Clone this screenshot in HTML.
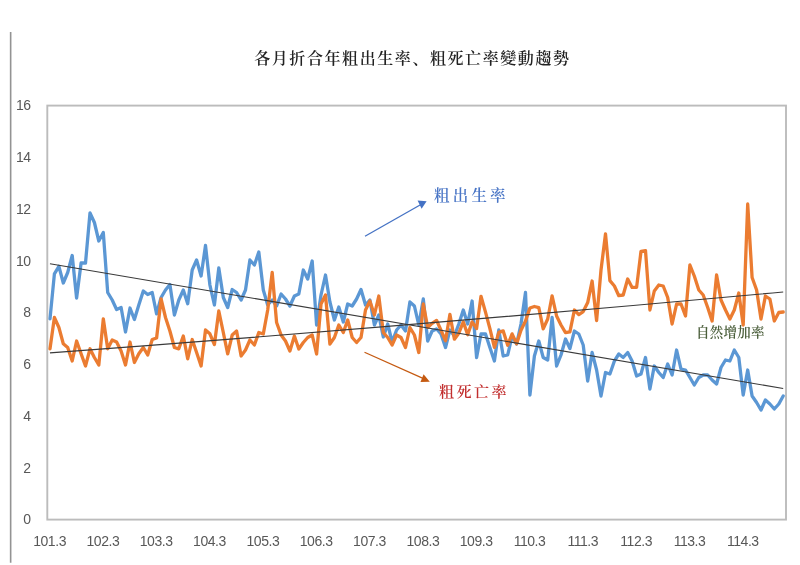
<!DOCTYPE html>
<html><head><meta charset="utf-8"><title>chart</title>
<style>
html,body{margin:0;padding:0;background:#fff;}
body{width:800px;height:565px;position:relative;overflow:hidden;font-family:"Liberation Sans",sans-serif;}
.title{position:absolute;left:4.4px;width:816px;font-weight:600;top:48.6px;text-align:center;font-family:"Liberation Serif","Noto Serif CJK SC",serif;font-size:16px;letter-spacing:1.58px;color:#222;white-space:nowrap;line-height:20px;}
.yl{position:absolute;left:0;width:30.7px;text-align:right;font-size:14px;letter-spacing:-0.45px;line-height:16px;color:#585858;}
.xl{position:absolute;top:532.9px;width:40px;text-align:center;font-size:14px;letter-spacing:-0.45px;line-height:16px;color:#585858;}
.lab{position:absolute;font-family:"Liberation Serif","Noto Serif CJK SC",serif;white-space:nowrap;line-height:18px;}
svg{position:absolute;left:0;top:0;}
</style></head><body>
<div class="title">各月折合年粗出生率、粗死亡率變動趨勢</div>
<div class="yl" style="top:511.4px">0</div>
<div class="yl" style="top:459.7px">2</div>
<div class="yl" style="top:407.9px">4</div>
<div class="yl" style="top:356.2px">6</div>
<div class="yl" style="top:304.4px">8</div>
<div class="yl" style="top:252.7px">10</div>
<div class="yl" style="top:200.9px">12</div>
<div class="yl" style="top:149.2px">14</div>
<div class="yl" style="top:97.4px">16</div>
<div class="xl" style="left:29.6px">101.3</div>
<div class="xl" style="left:82.9px">102.3</div>
<div class="xl" style="left:136.2px">103.3</div>
<div class="xl" style="left:189.5px">104.3</div>
<div class="xl" style="left:242.9px">105.3</div>
<div class="xl" style="left:296.2px">106.3</div>
<div class="xl" style="left:349.5px">107.3</div>
<div class="xl" style="left:402.9px">108.3</div>
<div class="xl" style="left:456.2px">109.3</div>
<div class="xl" style="left:509.5px">110.3</div>
<div class="xl" style="left:562.8px">111.3</div>
<div class="xl" style="left:616.2px">112.3</div>
<div class="xl" style="left:669.5px">113.3</div>
<div class="xl" style="left:722.8px">114.3</div>
<svg width="800" height="565" viewBox="0 0 800 565">
<line x1="10.65" y1="32" x2="10.65" y2="562.8" stroke="#939393" stroke-width="1.6"/>
<rect x="47.3" y="105.6" width="738.7" height="414.0" fill="none" stroke="#bcbcbc" stroke-width="1.9"/>
<polyline points="50.0,318.8 54.4,273.8 58.9,266.3 63.3,283.0 67.7,272.5 72.2,255.5 76.6,298.0 81.1,263.0 85.5,263.0 90.0,213.0 94.4,222.5 98.8,241.0 103.3,232.5 107.7,292.5 112.2,300.0 116.6,309.5 121.1,307.5 125.5,332.0 130.0,308.0 134.4,319.5 138.8,305.0 143.3,291.0 147.7,294.5 152.2,292.5 156.6,313.8 161.1,297.5 165.5,290.0 169.9,284.5 174.4,315.0 178.8,300.0 183.3,290.0 187.7,303.8 192.2,270.0 196.6,260.0 201.1,276.0 205.5,245.5 209.9,285.0 214.4,305.0 218.8,268.0 223.3,297.5 227.7,307.5 232.2,289.5 236.6,292.5 241.1,300.0 245.5,290.0 249.9,260.0 254.4,265.0 258.8,252.0 263.3,290.0 267.7,305.0 272.2,300.0 276.6,306.0 281.1,294.0 285.5,299.0 289.9,306.0 294.4,296.0 298.8,294.0 303.3,270.0 307.7,279.0 312.2,261.0 316.6,325.0 321.0,295.0 325.5,275.0 329.9,302.0 334.4,320.0 338.8,307.0 343.3,322.0 347.7,304.0 352.2,306.0 356.6,299.0 361.0,289.5 365.5,305.0 369.9,300.0 374.4,325.0 378.8,315.0 383.3,337.0 387.7,324.0 392.1,342.0 396.6,330.0 401.0,325.0 405.5,331.0 409.9,302.0 414.4,306.0 418.8,325.0 423.3,299.0 427.7,341.0 432.1,331.0 436.6,329.0 441.0,334.0 445.5,347.5 449.9,330.0 454.4,336.0 458.8,324.0 463.3,310.0 467.7,324.0 472.1,301.0 476.6,357.5 481.0,334.0 485.5,334.0 489.9,347.5 494.4,361.0 498.8,330.0 503.2,356.0 507.7,355.0 512.1,336.0 516.6,344.0 521.0,324.0 525.5,292.5 529.9,395.0 534.4,356.0 538.8,341.0 543.2,357.5 547.7,360.0 552.1,317.5 556.6,366.0 561.0,355.0 565.5,339.0 569.9,348.5 574.4,331.0 578.8,334.0 583.2,345.0 587.7,381.0 592.1,352.5 596.6,370.0 601.0,396.0 605.5,372.5 609.9,374.0 614.4,361.0 618.8,354.0 623.2,357.5 627.7,352.5 632.1,361.0 636.6,376.0 641.0,374.0 645.5,357.5 649.9,389.0 654.3,366.0 658.8,372.5 663.2,377.5 667.7,364.0 672.1,375.0 676.6,350.0 681.0,369.0 685.5,370.0 689.9,377.5 694.3,385.0 698.8,377.5 703.2,375.0 707.7,375.0 712.1,380.0 716.6,384.0 721.0,367.5 725.5,360.0 729.9,361.0 734.3,350.0 738.8,357.5 743.2,395.0 747.7,370.0 752.1,396.0 756.6,402.5 761.0,410.0 765.4,400.0 769.9,404.0 774.3,409.0 778.8,404.0 783.2,396.0" fill="none" stroke="#5b97d4" stroke-width="3.3" stroke-linejoin="round" stroke-linecap="round"/>
<polyline points="50.0,348.8 54.4,317.5 58.9,327.5 63.3,343.8 67.7,347.5 72.2,361.0 76.6,341.0 81.1,353.8 85.5,366.0 90.0,348.8 94.4,357.5 98.8,365.0 103.3,318.8 107.7,348.8 112.2,340.0 116.6,342.0 121.1,351.0 125.5,365.0 130.0,342.0 134.4,362.5 138.8,353.8 143.3,347.5 147.7,355.0 152.2,339.5 156.6,338.0 161.1,298.8 165.5,317.5 169.9,331.0 174.4,347.5 178.8,348.8 183.3,336.0 187.7,358.8 192.2,339.5 196.6,352.5 201.1,366.0 205.5,330.0 209.9,333.8 214.4,344.5 218.8,311.0 223.3,332.5 227.7,353.8 232.2,335.0 236.6,331.0 241.1,356.0 245.5,350.0 249.9,340.0 254.4,345.0 258.8,332.5 263.3,334.0 267.7,310.0 272.2,272.5 276.6,322.5 281.1,335.0 285.5,341.0 289.9,351.0 294.4,336.0 298.8,349.0 303.3,342.5 307.7,337.5 312.2,335.0 316.6,354.0 321.0,304.0 325.5,295.0 329.9,344.0 334.4,337.5 338.8,325.0 343.3,332.5 347.7,320.0 352.2,337.5 356.6,342.5 361.0,337.5 365.5,310.0 369.9,301.0 374.4,315.0 378.8,296.0 383.3,332.5 387.7,337.5 392.1,345.0 396.6,335.0 401.0,337.5 405.5,347.5 409.9,327.5 414.4,335.0 418.8,352.5 423.3,304.0 427.7,327.5 432.1,323.4 436.6,320.4 441.0,330.2 445.5,340.7 449.9,314.4 454.4,339.2 458.8,333.2 463.3,321.9 467.7,334.7 472.1,321.9 476.6,328.6 481.0,296.3 485.5,312.1 489.9,328.6 494.4,347.4 498.8,332.4 503.2,330.9 507.7,345.2 512.1,333.9 516.6,343.7 521.0,330.2 525.5,321.1 529.9,308.0 534.4,306.5 538.8,307.7 543.2,328.9 547.7,319.0 552.1,295.8 556.6,316.0 561.0,325.0 565.5,332.6 569.9,331.9 574.4,310.0 578.8,314.6 583.2,311.6 587.7,302.6 592.1,281.0 596.6,320.6 601.0,270.0 605.5,234.0 609.9,280.6 614.4,286.0 618.8,295.7 623.2,295.0 627.7,279.0 632.1,287.4 636.6,287.4 641.0,251.3 645.5,250.6 649.9,310.0 654.3,291.0 658.8,285.0 663.2,286.0 667.7,297.5 672.1,324.0 676.6,304.0 681.0,304.0 685.5,316.0 689.9,265.0 694.3,276.0 698.8,290.0 703.2,295.0 707.7,307.5 712.1,321.0 716.6,275.0 721.0,300.0 725.5,310.0 729.9,319.0 734.3,310.0 738.8,293.0 743.2,325.0 747.7,204.0 752.1,277.5 756.6,290.0 761.0,319.0 765.4,296.0 769.9,299.0 774.3,321.0 778.8,312.5 783.2,312.0" fill="none" stroke="#eb7c31" stroke-width="3.3" stroke-linejoin="round" stroke-linecap="round"/>
<path d="M49.96,263.70 L783.20,388.52" fill="none" stroke="#3a3a3a" stroke-width="1.15"/>
<path d="M49.96,352.90 Q416.58,325.65 783.20,292.01" fill="none" stroke="#3a3a3a" stroke-width="1.15"/>
<line x1="365" y1="236.3" x2="420.5" y2="204.8" stroke="#4472c4" stroke-width="1.3"/>
<polygon points="426.6,201.2 417.6,200.6 421.6,208.7" fill="#4472c4"/>
<line x1="364.5" y1="352.3" x2="423" y2="378.4" stroke="#c55a11" stroke-width="1.25"/>
<polygon points="429.8,381.7 420.5,382.1 423.6,374.3" fill="#c55a11"/>
</svg>
<div class="lab" style="left:434px;top:187.2px;font-size:15.5px;letter-spacing:3.2px;color:#4a76c6;font-weight:600;">粗出生率</div>
<div class="lab" style="left:439px;top:383px;font-size:15px;letter-spacing:2.5px;color:#c22f2f;font-weight:600;">粗死亡率</div>
<div class="lab" style="left:695.9px;top:324px;font-size:13.5px;letter-spacing:0.25px;color:#4a5e3a;font-weight:600;">自然增加率</div>
</body></html>
